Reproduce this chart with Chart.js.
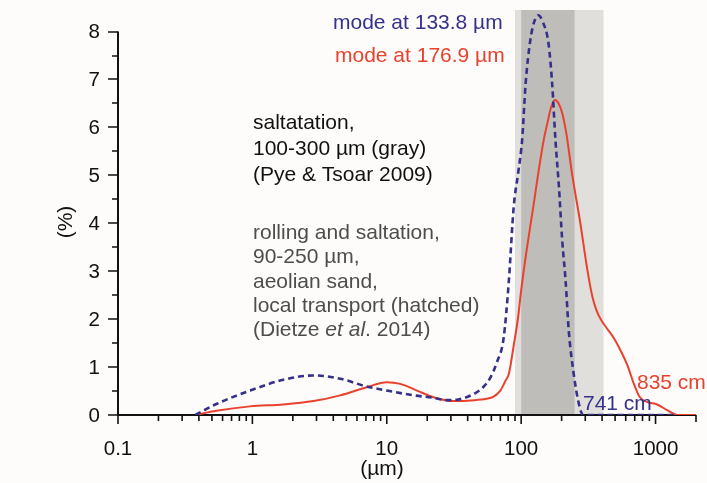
<!DOCTYPE html>
<html>
<head>
<meta charset="utf-8">
<script src="https://cdn.jsdelivr.net/npm/chart.js@4/dist/chart.umd.min.js"></script>
<style>
html,body{margin:0;padding:0;background:#fdfcfa;}
canvas{display:block;}
</style>
</head>
<body>
<canvas id="c" width="707" height="483"></canvas>
<script>
// ---- data ----
const blueSize = [0.376, 0.54, 0.96, 1.7, 2.85, 4.5, 7.1, 10, 15.9, 22, 28, 33.4, 40, 47, 53, 59, 66, 74, 80.7, 88, 95, 101.6, 108, 117, 125, 134, 145, 160, 170, 180, 191, 202, 214, 226, 246, 269, 290, 400, 700, 1000, 1460];
const bluePct  = [0, 0.23, 0.51, 0.735, 0.825, 0.756, 0.595, 0.51, 0.41, 0.36, 0.31, 0.32, 0.38, 0.48, 0.6, 0.78, 1.1, 1.6, 2.74, 4.34, 5.05, 5.73, 6.92, 7.82, 8.2, 8.34, 8.2, 7.74, 6.92, 5.73, 4.76, 3.65, 2.81, 1.76, 0.86, 0.23, 0, 0, 0, 0, 0];
const redSize  = [0.376, 0.54, 0.96, 1.7, 2.85, 4.5, 7.1, 10, 12.6, 16.8, 22.3, 31.4, 45, 55, 62, 70, 76, 81, 88, 95, 100, 110, 124, 135, 147, 157, 167, 178, 190, 202, 217, 239, 276, 310, 340, 367, 400, 437, 490, 560, 615, 690, 760, 869, 1028, 1222, 1460, 2000];
const redPct   = [0, 0.09, 0.18, 0.22, 0.29, 0.41, 0.58, 0.685, 0.65, 0.51, 0.37, 0.29, 0.31, 0.34, 0.38, 0.51, 0.7, 0.86, 1.45, 2.05, 2.6, 3.45, 4.4, 5.1, 5.73, 6.1, 6.42, 6.57, 6.5, 6.3, 5.87, 5.04, 3.99, 3.05, 2.45, 2.15, 1.95, 1.8, 1.6, 1.3, 1.05, 0.65, 0.38, 0.27, 0.22, 0.1, 0, 0];
const yTickValues = [0, 1, 2, 3, 4, 5, 6, 7, 8];
const xMajorTicks = [0.1, 1, 10, 100, 1000];
const xTickLabels = ['0.1', '1', '10', '100', '1000'];
const saltationBand = [100, 250];   // darker overlap
const outerBand = [90, 410];        // lighter band
const blueMode = 133.8, redMode = 176.9;

const NAVY = '#35308a', RED = '#e8412d';
const FONT = '"Liberation Sans", Arial, sans-serif';

function pts(xs, ys){ return xs.map((x,i)=>({x:x, y:ys[i]})); }

const bandPlugin = {
  id:'bands',
  beforeDatasetsDraw(chart){
    const {ctx, scales:{x,y}, chartArea:a} = chart;
    ctx.save();
    const y0 = y.getPixelForValue(0);
    ctx.fillStyle = '#e1dfdc';
    let l = x.getPixelForValue(outerBand[0]), r = x.getPixelForValue(outerBand[1]);
    ctx.fillRect(l, a.top, r-l, y0-a.top);
    ctx.fillStyle = '#bfbdba';
    l = x.getPixelForValue(saltationBand[0]); r = x.getPixelForValue(saltationBand[1]);
    ctx.fillRect(l, a.top, r-l, y0-a.top);
    // axes
    ctx.strokeStyle = '#111'; ctx.lineWidth = 2;
    const x0 = x.getPixelForValue(0.1);
    ctx.beginPath();
    ctx.moveTo(x0, y.getPixelForValue(8)); ctx.lineTo(x0, y0);
    ctx.moveTo(x0-1, y0); ctx.lineTo(x.getPixelForValue(2000), y0);
    ctx.stroke();
    ctx.lineWidth = 1.6;
    ctx.beginPath();
    for (let v=0; v<=8; v+=0.5){
      const py = Math.round(y.getPixelForValue(v));
      const len = Number.isInteger(v) ? 10 : 6;
      ctx.moveTo(x0-len, py); ctx.lineTo(x0, py);
    }
    for (let d=0.1; d<=1000; d*=10){
      for (let m=1; m<=9; m++){
        const v = d*m;
        if (v>2000) break;
        const px = x.getPixelForValue(v);
        ctx.moveTo(px, y0); ctx.lineTo(px, y0 + (m===1 ? 9 : 6));
      }
    }
    const pe = x.getPixelForValue(2000);
    ctx.moveTo(pe, y0); ctx.lineTo(pe, y0+7);
    ctx.stroke();
    // tick labels
    ctx.fillStyle = '#111';
    ctx.font = '20.5px ' + FONT;
    ctx.textAlign = 'right'; ctx.textBaseline = 'middle';
    yTickValues.forEach(v=>{ ctx.fillText(String(v), x0-18, y.getPixelForValue(v)+1); });
    ctx.textAlign = 'center'; ctx.textBaseline = 'alphabetic';
    xMajorTicks.forEach((v,i)=>{ ctx.fillText(xTickLabels[i], x.getPixelForValue(v), 455); });
    ctx.font = '21px ' + FONT;
    ctx.fillText('(µm)', 382, 475);
    ctx.save();
    ctx.translate(66, 222); ctx.rotate(-Math.PI/2);
    ctx.textBaseline = 'middle';
    ctx.fillText('(%)', 0, 0);
    ctx.restore();
    ctx.restore();
  },
  afterDatasetsDraw(chart){
    const {ctx} = chart;
    ctx.save();
    ctx.font = '21px ' + FONT;
    ctx.textAlign = 'left'; ctx.textBaseline = 'alphabetic';
    ctx.fillStyle = NAVY;
    ctx.fillText('mode at ' + blueMode + ' µm', 333, 29);
    ctx.fillStyle = RED;
    ctx.fillText('mode at ' + redMode + ' µm', 335, 62);
    ctx.fillStyle = '#111';
    ['saltatation,', '100-300 µm (gray)', '(Pye & Tsoar 2009)'].forEach((t,i)=>ctx.fillText(t, 253, 129 + i*25.8));
    ctx.fillStyle = '#4d4d4d';
    ['rolling and saltation,', '90-250 µm,', 'aeolian sand,', 'local transport (hatched)'].forEach((t,i)=>ctx.fillText(t, 253, 239 + i*24.3));
    // (Dietze et al. 2014) with italic
    let xx = 253; const by = 239 + 4*24.3;
    const parts = [['(Dietze ', ''], ['et al', 'italic '], ['. 2014)', '']];
    parts.forEach(([t, st])=>{ ctx.font = st + '21px ' + FONT; ctx.fillText(t, xx, by); xx += ctx.measureText(t).width; });
    ctx.font = '21px ' + FONT;
    ctx.fillStyle = NAVY;
    ctx.fillText('741 cm', 583, 410);
    ctx.fillStyle = RED;
    ctx.fillText('835 cm', 637, 389);
    ctx.restore();
  }
};

new Chart(document.getElementById('c'), {
  type: 'line',
  data: {
    datasets: [
      { label:'741 cm', data: pts(blueSize, bluePct), borderColor: NAVY, borderWidth: 2.6,
        borderDash: [6,4], pointRadius: 0, cubicInterpolationMode: 'monotone', fill:false },
      { label:'835 cm', data: pts(redSize, redPct), borderColor: RED, borderWidth: 2,
        pointRadius: 0, cubicInterpolationMode: 'monotone', fill:false }
    ]
  },
  options: {
    responsive: false,
    animation: false,
    layout: { padding: { left: 118, right: 11, top: 10, bottom: 68 } },
    plugins: { legend: { display:false }, tooltip: { enabled:false } },
    scales: {
      x: { type:'logarithmic', min:0.1, max:2000, display:false },
      y: { type:'linear', min:0, max:8.45, display:false }
    }
  },
  plugins: [bandPlugin]
});
</script>
</body>
</html>
